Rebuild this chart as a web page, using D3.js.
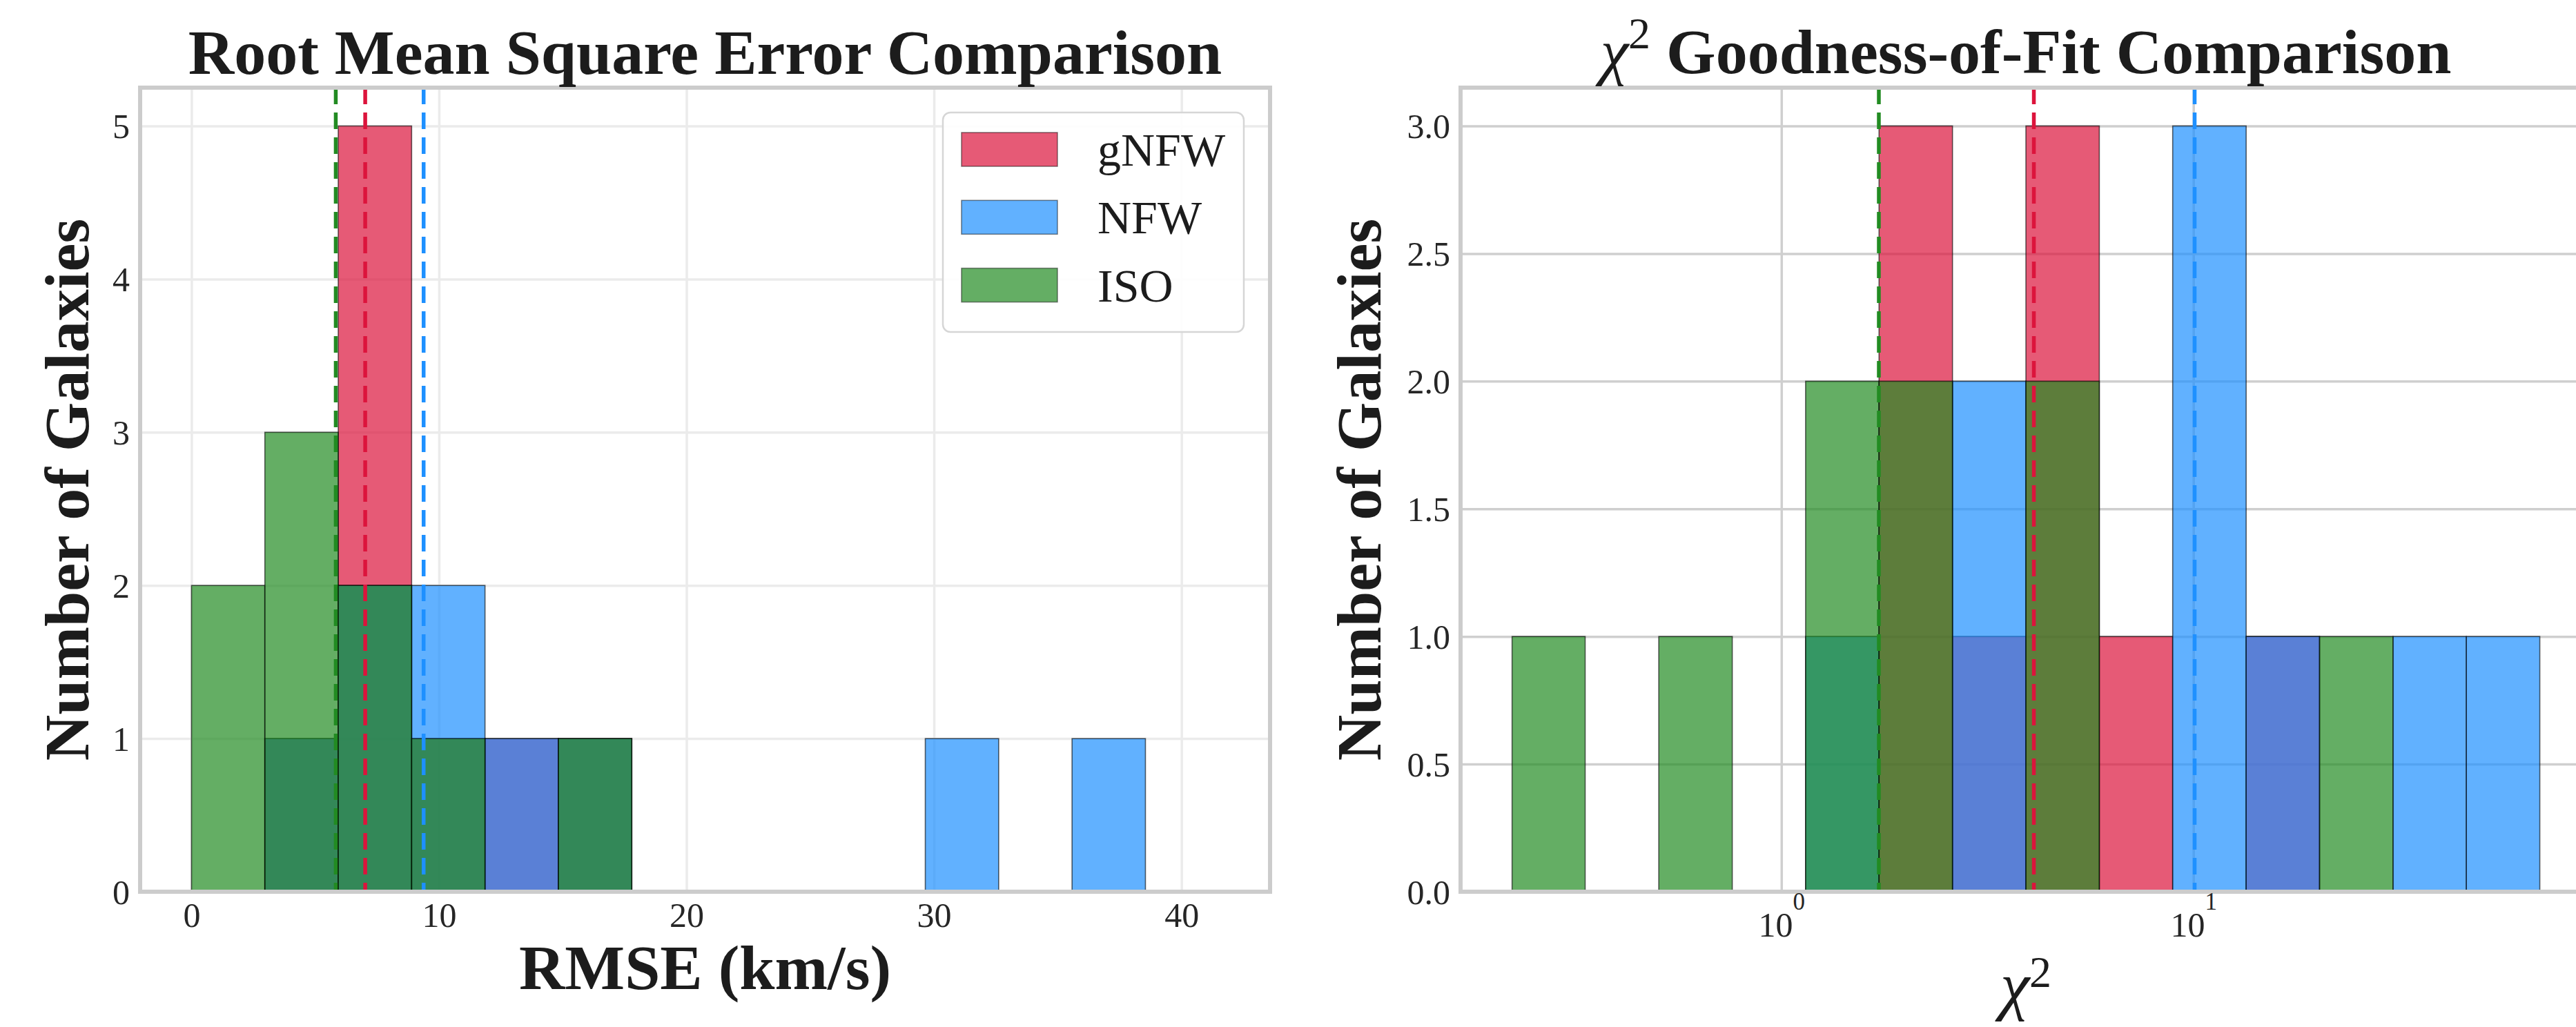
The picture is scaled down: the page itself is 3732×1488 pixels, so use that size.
<!DOCTYPE html>
<html><head><meta charset="utf-8">
<script src="https://cdn.jsdelivr.net/npm/d3@7"></script>
<style>body{margin:0;background:#fff} svg{display:block}</style>
</head><body>
<script>
// ---------- DATA ----------
const models = ["gNFW", "NFW", "ISO"];
const modelColors = ["#DC143C", "#1E90FF", "#228B22"];

// RMSE histogram (shared bin edges, km/s)
const rmseEdges = [0, 2.965, 5.93, 8.895, 11.86, 14.825, 17.79, 20.755, 23.72, 26.685, 29.65, 32.615, 35.58, 38.545, 41.51];
const rmseGNFW = [0, 1, 5, 1, 1, 1, 0, 0, 0, 0, 0, 0, 0, 0];
const rmseNFW  = [0, 1, 2, 2, 1, 1, 0, 0, 0, 0, 1, 0, 1, 0];
const rmseISO  = [2, 3, 2, 1, 0, 1, 0, 0, 0, 0, 0, 0, 0, 0];
const rmseMeans = [7.02, 9.38, 5.83];            // gNFW, NFW, ISO
const rmseXTicks = [0, 10, 20, 30, 40];
const rmseYTicks = [0, 1, 2, 3, 4, 5];

// Chi-square histogram (log-spaced shared bin edges)
const chiEdges = [0.222, 0.334, 0.504, 0.760, 1.145, 1.726, 2.602, 3.922, 5.911, 8.907, 13.43, 20.24, 30.51, 45.98, 69.31];
const chiGNFW = [0, 0, 0, 0, 0, 3, 1, 3, 1, 0, 1, 0, 0, 0];
const chiNFW  = [0, 0, 0, 0, 1, 0, 2, 0, 0, 3, 1, 0, 1, 1];
const chiISO  = [1, 0, 1, 0, 2, 2, 0, 2, 0, 0, 0, 1, 0, 0];
const chiMeans = [4.10, 10.07, 1.724];
const chiXTicks = [1, 10];
const chiXTickExp = ["0", "1"];
const chiYTicks = [0, 0.5, 1.0, 1.5, 2.0, 2.5, 3.0];

// ---------- LAYOUT ----------
const W = 3732, H = 1488;
const FONT = "'Liberation Serif', 'Times New Roman', Times, serif";
const svg = d3.select("body").append("svg").attr("width", W).attr("height", H)
  .style("font-family", FONT);

const plotTop = 127, plotBottom = 1292;

function panel(opts) {
  const {x, y, xTicks, yTicks, yFmt, gridColor, seriesCounts, edges, means, id} = opts;
  const [L, R] = x.range();
  const g = svg.append("g");
  const clipId = "clip" + id;
  svg.append("defs").append("clipPath").attr("id", clipId)
    .append("rect").attr("x", L).attr("y", plotTop).attr("width", R - L).attr("height", plotBottom - plotTop);
  const plot = g.append("g").attr("clip-path", `url(#${clipId})`);

  // grid
  const gx = plot.append("g").attr("transform", `translate(0,${plotBottom})`)
    .call(d3.axisBottom(x).tickValues(xTicks).tickSize(-(plotBottom - plotTop)).tickFormat(""));
  const gy = plot.append("g").attr("transform", `translate(${L},0)`)
    .call(d3.axisLeft(y).tickValues(yTicks).tickSize(-(R - L)).tickFormat(""));
  [gx, gy].forEach(a => {
    a.select(".domain").remove();
    a.selectAll(".tick line").attr("stroke", gridColor).attr("stroke-width", 3.5);
  });

  // bars
  seriesCounts.forEach((counts, si) => {
    const bins = counts.map((c, i) => ({c, x0: edges[i], x1: edges[i + 1]})).filter(d => d.c > 0);
    plot.append("g").selectAll("rect").data(bins).join("rect")
      .attr("x", d => x(d.x0))
      .attr("width", d => x(d.x1) - x(d.x0))
      .attr("y", d => y(d.c))
      .attr("height", d => y(0) - y(d.c))
      .attr("fill", modelColors[si]).attr("fill-opacity", 0.7)
      .attr("stroke", "#000").attr("stroke-opacity", 0.6).attr("stroke-width", 1.6);
  });

  // mean lines
  plot.append("g").selectAll("line").data(means).join("line")
    .attr("x1", d => x(d)).attr("x2", d => x(d))
    .attr("y1", plotTop).attr("y2", plotBottom)
    .attr("stroke", (d, i) => modelColors[i]).attr("stroke-width", 5.5)
    .attr("stroke-dasharray", "24,12");

  // frame
  g.append("rect").attr("x", L).attr("y", plotTop).attr("width", R - L).attr("height", plotBottom - plotTop)
    .attr("fill", "none").attr("stroke", "#cccccc").attr("stroke-width", 6);

  // y tick labels
  const ya = g.append("g").attr("transform", `translate(${L},0)`)
    .call(d3.axisLeft(y).tickValues(yTicks).tickSize(0).tickPadding(15).tickFormat(yFmt));
  ya.select(".domain").remove();
  ya.selectAll(".tick text").attr("font-family", FONT).attr("font-size", 50)
    .attr("fill", "#262626").attr("dy", "0.34em");
  return g;
}

// ---------- LEFT PANEL ----------
const xL = d3.scaleLinear().domain([-2.075, 43.58]).range([203, 1840]);
const yL = d3.scaleLinear().domain([0, 5.25]).range([plotBottom, plotTop]);
panel({x: xL, y: yL, xTicks: rmseXTicks, yTicks: rmseYTicks, yFmt: d3.format("d"),
  gridColor: "#ebebeb", seriesCounts: [rmseGNFW, rmseNFW, rmseISO], edges: rmseEdges,
  means: rmseMeans, id: "L"});

const xaL = svg.append("g").attr("transform", `translate(0,${plotBottom})`)
  .call(d3.axisBottom(xL).tickValues(rmseXTicks).tickSize(0).tickFormat(d3.format("d")));
xaL.select(".domain").remove();
xaL.selectAll(".tick text").attr("font-family", FONT).attr("font-size", 50)
  .attr("fill", "#262626").attr("y", 51).attr("dy", null);

// ---------- RIGHT PANEL ----------
const xR = d3.scaleLog().domain([Math.pow(10, -0.7787), Math.pow(10, 1.9655)]).range([2116, 3754]);
const yR = d3.scaleLinear().domain([0, 3.15]).range([plotBottom, plotTop]);
panel({x: xR, y: yR, xTicks: chiXTicks, yTicks: chiYTicks, yFmt: d3.format(".1f"),
  gridColor: "#cfcfcf", seriesCounts: [chiGNFW, chiNFW, chiISO], edges: chiEdges,
  means: chiMeans, id: "R"});

const xaR = svg.append("g").attr("transform", `translate(0,${plotBottom})`)
  .call(d3.axisBottom(xR).tickValues(chiXTicks).tickSize(0).tickFormat(() => ""));
xaR.select(".domain").remove();
xaR.selectAll(".tick text").each(function(d, i) {
  const t = d3.select(this).attr("font-family", FONT).attr("font-size", 50)
    .attr("fill", "#262626").attr("y", 65).attr("dy", null).attr("text-anchor", "middle");
  t.text(null);
  t.append("tspan").text("10");
  t.append("tspan").attr("dy", -39).attr("font-size", 35).text(chiXTickExp[i]);
});

// ---------- TEXT ----------
const tcol = "#1c1c1c";
svg.append("text").attr("x", (203 + 1840) / 2).attr("y", 107).attr("text-anchor", "middle")
  .attr("font-size", 92).attr("font-weight", "bold").attr("fill", tcol)
  .text("Root Mean Square Error Comparison");

const tR = svg.append("text").attr("x", (2116 + 3754) / 2).attr("y", 106).attr("text-anchor", "middle")
  .attr("font-size", 92).attr("fill", tcol);
tR.append("tspan").attr("font-style", "italic").text("χ");
tR.append("tspan").attr("font-size", 64).attr("dy", -36).text("2");
tR.append("tspan").attr("dy", 36).attr("font-weight", "bold").text(" Goodness-of-Fit Comparison");

svg.append("text").attr("x", (203 + 1840) / 2).attr("y", 1433).attr("text-anchor", "middle")
  .attr("font-size", 92).attr("font-weight", "bold").attr("fill", tcol).text("RMSE (km/s)");

const xlR = svg.append("text").attr("x", (2116 + 3754) / 2).attr("y", 1460).attr("text-anchor", "middle")
  .attr("font-size", 96).attr("fill", tcol);
xlR.append("tspan").attr("font-style", "italic").text("χ");
xlR.append("tspan").attr("font-size", 64).attr("dy", -30).text("2");

[128, 2000].forEach(bx => {
  svg.append("text").attr("transform", `translate(${bx},${(plotTop + plotBottom) / 2}) rotate(-90)`)
    .attr("text-anchor", "middle").attr("font-size", 92).attr("font-weight", "bold")
    .attr("fill", tcol).text("Number of Galaxies");
});

// ---------- LEGEND ----------
const lg = svg.append("g");
lg.append("rect").attr("x", 1366).attr("y", 163).attr("width", 436).attr("height", 318)
  .attr("rx", 11).attr("fill", "#fff").attr("fill-opacity", 0.9)
  .attr("stroke", "#d6d6d6").attr("stroke-width", 2.5);
const rows = lg.selectAll("g.row").data(models).join("g").attr("class", "row")
  .attr("transform", (d, i) => `translate(0,${i * 98.3})`);
rows.append("rect").attr("x", 1393).attr("y", 192).attr("width", 139).attr("height", 49)
  .attr("fill", (d, i) => modelColors[i]).attr("fill-opacity", 0.7)
  .attr("stroke", "#000").attr("stroke-opacity", 0.45).attr("stroke-width", 1.6);
rows.append("text").attr("x", 1590).attr("y", 240).attr("font-size", 68).attr("fill", tcol)
  .text(d => d);
</script>
</body></html>
